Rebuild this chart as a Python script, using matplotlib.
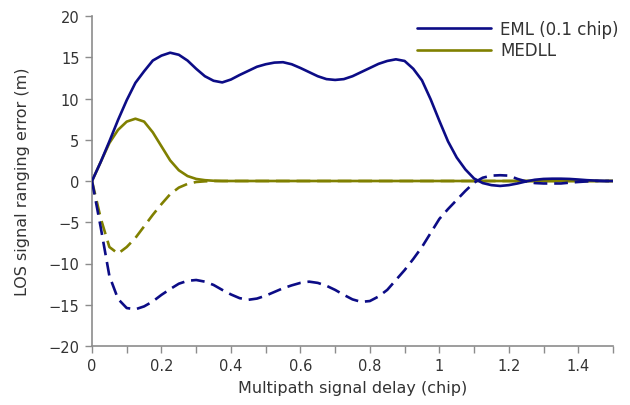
import matplotlib
matplotlib.use("Agg")
import matplotlib.pyplot as plt
from matplotlib.ticker import MultipleLocator, FuncFormatter

# Multipath delay (chip)
delay = [0.000, 0.025, 0.050, 0.075, 0.100, 0.125, 0.150, 0.175, 0.200, 0.225,
         0.250, 0.275, 0.300, 0.325, 0.350, 0.375, 0.400, 0.425, 0.450, 0.475,
         0.500, 0.525, 0.550, 0.575, 0.600, 0.625, 0.650, 0.675, 0.700, 0.725,
         0.750, 0.775, 0.800, 0.825, 0.850, 0.875, 0.900, 0.925, 0.950, 0.975,
         1.000, 1.025, 1.050, 1.075, 1.100, 1.125, 1.150, 1.175, 1.200, 1.225,
         1.250, 1.275, 1.300, 1.325, 1.350, 1.375, 1.400, 1.425, 1.450, 1.475,
         1.500]

# EML (0.1 chip) upper envelope (in-phase multipath)
eml_upper = [0.0, 2.3, 4.8, 7.4, 9.8, 11.9, 13.3, 14.6, 15.2, 15.55,
             15.3, 14.6, 13.6, 12.7, 12.15, 11.95, 12.3, 12.85, 13.35, 13.85,
             14.15, 14.35, 14.4, 14.15, 13.7, 13.2, 12.7, 12.35, 12.25, 12.35,
             12.7, 13.2, 13.7, 14.2, 14.55, 14.75, 14.55, 13.6, 12.2, 9.9,
             7.3, 4.8, 2.85, 1.4, 0.3, -0.25, -0.5, -0.6, -0.5, -0.3,
             -0.05, 0.15, 0.25, 0.28, 0.28, 0.25, 0.18, 0.1, 0.05, 0.0,
             0.0]

# EML (0.1 chip) lower envelope (out-of-phase multipath)
eml_lower = [0.0, -5.6, -11.5, -14.3, -15.4, -15.55, -15.2, -14.6, -13.8, -13.1,
             -12.45, -12.1, -12.0, -12.2, -12.6, -13.2, -13.75, -14.2, -14.4, -14.25,
             -13.9, -13.45, -13.0, -12.65, -12.35, -12.2, -12.35, -12.7, -13.2, -13.8,
             -14.35, -14.65, -14.55, -14.0, -13.2, -12.0, -10.8, -9.45, -8.0, -6.3,
             -4.6, -3.4, -2.3, -1.2, -0.2, 0.4, 0.65, 0.7, 0.65, 0.25,
             -0.05, -0.25, -0.3, -0.3, -0.3, -0.2, -0.12, -0.05, 0.0, 0.0,
             0.0]

# MEDLL upper envelope
medll_upper = [0.0, 2.3, 4.6, 6.2, 7.2, 7.55, 7.2, 5.9, 4.2, 2.5,
               1.3, 0.6, 0.25, 0.1, 0.03, 0.0, 0.0, 0.0, 0.0, 0.0,
               0.0, 0.0, 0.0, 0.0, 0.0, 0.0, 0.0, 0.0, 0.0, 0.0,
               0.0, 0.0, 0.0, 0.0, 0.0, 0.0, 0.0, 0.0, 0.0, 0.0,
               0.0, 0.0, 0.0, 0.0, 0.0, 0.0, 0.0, 0.0, 0.0, 0.0,
               0.0, 0.0, 0.0, 0.0, 0.0, 0.0, 0.0, 0.0, 0.0, 0.0,
               0.0]

# MEDLL lower envelope
medll_lower = [0.0, -4.5, -8.0, -8.8, -8.0, -6.9, -5.5, -4.1, -2.8, -1.6,
               -0.8, -0.35, -0.12, -0.04, 0.0, 0.0, 0.0, 0.0, 0.0, 0.0,
               0.0, 0.0, 0.0, 0.0, 0.0, 0.0, 0.0, 0.0, 0.0, 0.0,
               0.0, 0.0, 0.0, 0.0, 0.0, 0.0, 0.0, 0.0, 0.0, 0.0,
               0.0, 0.0, 0.0, 0.0, 0.0, 0.0, 0.0, 0.0, 0.0, 0.0,
               0.0, 0.0, 0.0, 0.0, 0.0, 0.0, 0.0, 0.0, 0.0, 0.0,
               0.0]

series_labels = ["EML (0.1 chip)", "MEDLL"]
x_label = "Multipath signal delay (chip)"
y_label = "LOS signal ranging error (m)"

BLUE = "#0c0c86"
OLIVE = "#808000"
TEXT = "#333333"
SPINE = "#8c8c8c"

plt.rcParams['font.family'] = ['DejaVu Sans']

fig = plt.figure(figsize=(6.3, 4.06), dpi=100)
ax = fig.add_axes([92/630, 1 - 347/406, (613-92)/630, (347-17)/406])

lw = 1.9
dash = (0, (5.2, 2.6))
h_med, = ax.plot(delay, medll_upper, color=OLIVE, lw=lw, label=series_labels[1],
                 solid_capstyle='round', zorder=2)
ax.plot(delay, medll_lower, color=OLIVE, lw=lw, ls=dash, zorder=2)
h_eml, = ax.plot(delay, eml_upper, color=BLUE, lw=lw, label=series_labels[0],
                 solid_capstyle='round', zorder=3)
ax.plot(delay, eml_lower, color=BLUE, lw=lw, ls=dash, zorder=3)

ax.set_xlim(0, 1.5)
ax.set_ylim(-20, 20)
ax.xaxis.set_major_locator(MultipleLocator(0.2))
ax.xaxis.set_minor_locator(MultipleLocator(0.1))
ax.yaxis.set_major_locator(MultipleLocator(5))

def fmt_x(v, pos):
    s = f"{v:.1f}"
    if s.endswith(".0"):
        s = s[:-2]
    return s

def fmt_y(v, pos):
    s = f"{int(round(v))}"
    return s.replace("-", "\u2212")

ax.xaxis.set_major_formatter(FuncFormatter(fmt_x))
ax.yaxis.set_major_formatter(FuncFormatter(fmt_y))

for side in ("top", "right"):
    ax.spines[side].set_visible(False)
for side in ("left", "bottom"):
    ax.spines[side].set_color(SPINE)
    ax.spines[side].set_linewidth(1.2)

ax.tick_params(axis='both', which='both', direction='out', color=SPINE, width=1.0,
               labelcolor=TEXT, labelsize=10.5)
ax.tick_params(axis='both', which='major', length=5, pad=4)
ax.tick_params(axis='x', which='minor', length=5)

ax.set_xlabel(x_label, fontsize=11.5, color=TEXT, labelpad=5)
ax.set_ylabel(y_label, fontsize=11.5, color=TEXT, labelpad=13)

leg = ax.legend(handles=[h_eml, h_med], loc='upper right',
                bbox_to_anchor=(619/630, 1 - 21/406),
                bbox_transform=fig.transFigure, frameon=False, fontsize=12,
                handlelength=4.4, handletextpad=0.6, labelspacing=0.2,
                borderpad=0, borderaxespad=0)
for t in leg.get_texts():
    t.set_color(TEXT)

fig.savefig("out.png", dpi=100)
